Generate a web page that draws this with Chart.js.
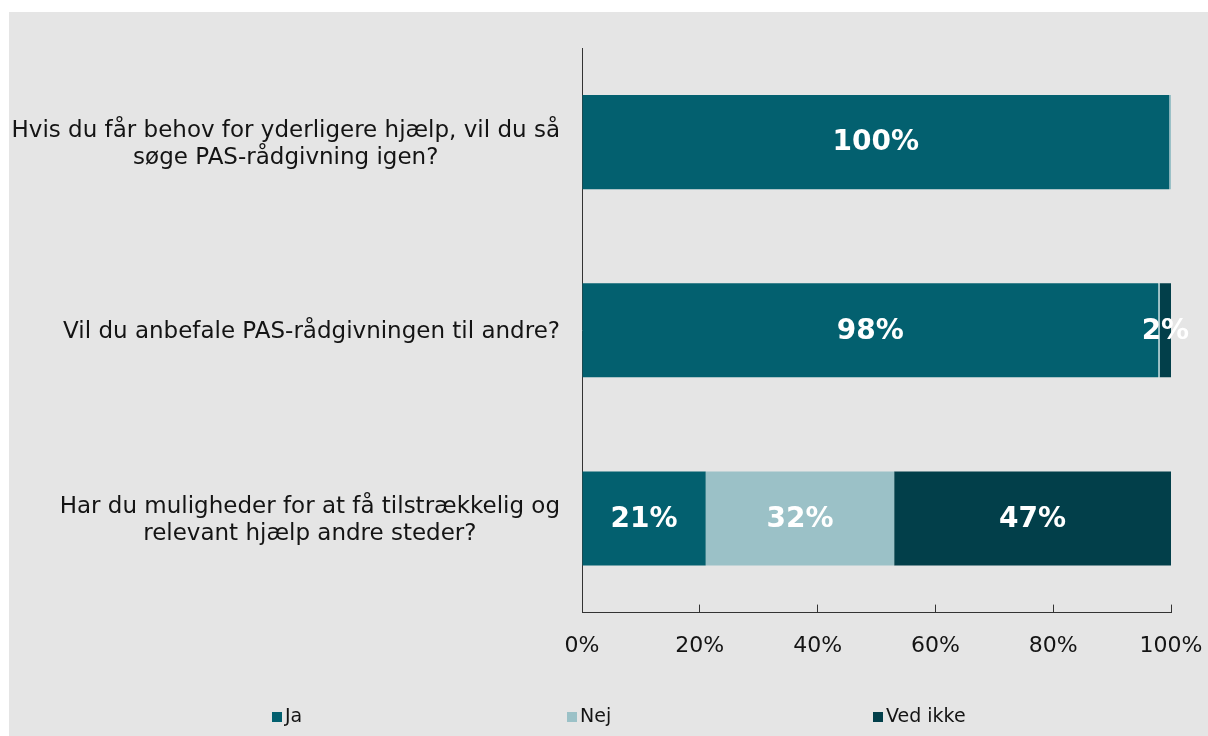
<!DOCTYPE html>
<html>
<head>
<meta charset="utf-8">
<script src="https://cdn.jsdelivr.net/npm/chart.js@4/dist/chart.umd.min.js"></script>
<style>
  body { margin: 0; background: #fff; }
  #wrap { position: absolute; left: 9px; top: 12px; width: 1199px; height: 724px; background: #e5e5e5; }
</style>
</head>
<body>
<div id="wrap"><canvas id="chart" width="1199" height="724"></canvas></div>
<script>
const categories = [
  ["Hvis du får behov for yderligere hjælp, vil du så", "søge PAS-rådgivning igen?"],
  ["Vil du anbefale PAS-rådgivningen til andre?"],
  ["Har du muligheder for at få tilstrækkelig og", "relevant hjælp andre steder?"]
];
const seriesNames = ["Ja", "Nej", "Ved ikke"];
const jaValues = [99.7, 97.8, 21];
const nejValues = [0.3, 0.3, 32];
const vedIkkeValues = [0, 1.9, 47];
const colors = ["#03606f", "#9bc1c7", "#023f4a"];

const FONT = "DejaVu Sans";
const TEXT = "#141414";

// category labels: block right aligned, lines centered inside the block
const catLabels = {
  id: "catLabels",
  afterDraw(chart) {
    const ctx = chart.ctx;
    const y = chart.scales.y;
    ctx.save();
    ctx.font = "23px '" + FONT + "'";
    ctx.fillStyle = TEXT;
    ctx.textAlign = "center";
    ctx.textBaseline = "middle";
    chart.data.labels.forEach((lines, i) => {
      const cy = y.getPixelForValue(i) + 2;
      const w = Math.max(...lines.map((l) => ctx.measureText(l).width));
      const cx = y.right - 22 - w / 2;
      const lh = 27;
      lines.forEach((l, j) => {
        ctx.fillText(l, cx, cy + (j - (lines.length - 1) / 2) * lh);
      });
    });
    ctx.restore();
  }
};

// white percentage labels inside the bars
const barLabels = {
  id: "barLabels",
  afterDatasetsDraw(chart) {
    const ctx = chart.ctx;
    ctx.save();
    ctx.font = "bold 28px '" + FONT + "'";
    ctx.fillStyle = "#fff";
    ctx.textAlign = "center";
    ctx.textBaseline = "middle";
    chart.data.datasets.forEach((ds, di) => {
      const meta = chart.getDatasetMeta(di);
      meta.data.forEach((el, i) => {
        const v = ds.data[i];
        if (v < 1) return;
        ctx.fillText(Math.round(v) + "%", (el.x + el.base) / 2, el.y + 1);
      });
    });
    ctx.restore();
  }
};

// legend spread along the bottom like the original
const spreadLegend = {
  id: "spreadLegend",
  afterDraw(chart) {
    const ctx = chart.ctx;
    const xs = [263, 558, 864];
    const cy = 705;
    ctx.save();
    ctx.font = "19px '" + FONT + "'";
    ctx.textBaseline = "middle";
    ctx.textAlign = "left";
    chart.data.datasets.forEach((ds, i) => {
      ctx.fillStyle = ds.backgroundColor;
      ctx.fillRect(xs[i], cy - 5, 10, 10);
      ctx.fillStyle = TEXT;
      ctx.fillText(ds.label, xs[i] + 13, cy);
    });
    ctx.restore();
  }
};

new Chart(document.getElementById("chart"), {
  type: "bar",
  data: {
    labels: categories,
    datasets: [
      { label: seriesNames[0], data: jaValues, backgroundColor: colors[0] },
      { label: seriesNames[1], data: nejValues, backgroundColor: colors[1] },
      { label: seriesNames[2], data: vedIkkeValues, backgroundColor: colors[2] }
    ]
  },
  options: {
    indexAxis: "y",
    responsive: false,
    animation: false,
    devicePixelRatio: 1,
    datasets: { bar: { categoryPercentage: 1, barPercentage: 0.5, borderWidth: 0 } },
    layout: { padding: { left: 0, right: 37, top: 36, bottom: 49 } },
    scales: {
      x: {
        stacked: true,
        min: 0,
        max: 100,
        ticks: {
          stepSize: 20,
          padding: 28,
          color: TEXT,
          font: { family: FONT, size: 22 },
          callback: (v) => v + "%"
        },
        grid: { drawOnChartArea: false, drawTicks: true, tickLength: -8, color: "#333", lineWidth: 1 },
        border: { display: true, color: "#333", width: 1 },
        afterFit: (s) => { s.paddingRight = 0; s.paddingLeft = 0; }
      },
      y: {
        stacked: true,
        ticks: { display: false },
        grid: { drawOnChartArea: false, drawTicks: false },
        border: { display: true, color: "#333", width: 1 },
        afterFit: (s) => { s.width = 573; }
      }
    },
    plugins: {
      legend: { display: false },
      tooltip: { enabled: false }
    }
  },
  plugins: [catLabels, barLabels, spreadLegend]
});
</script>
</body>
</html>
